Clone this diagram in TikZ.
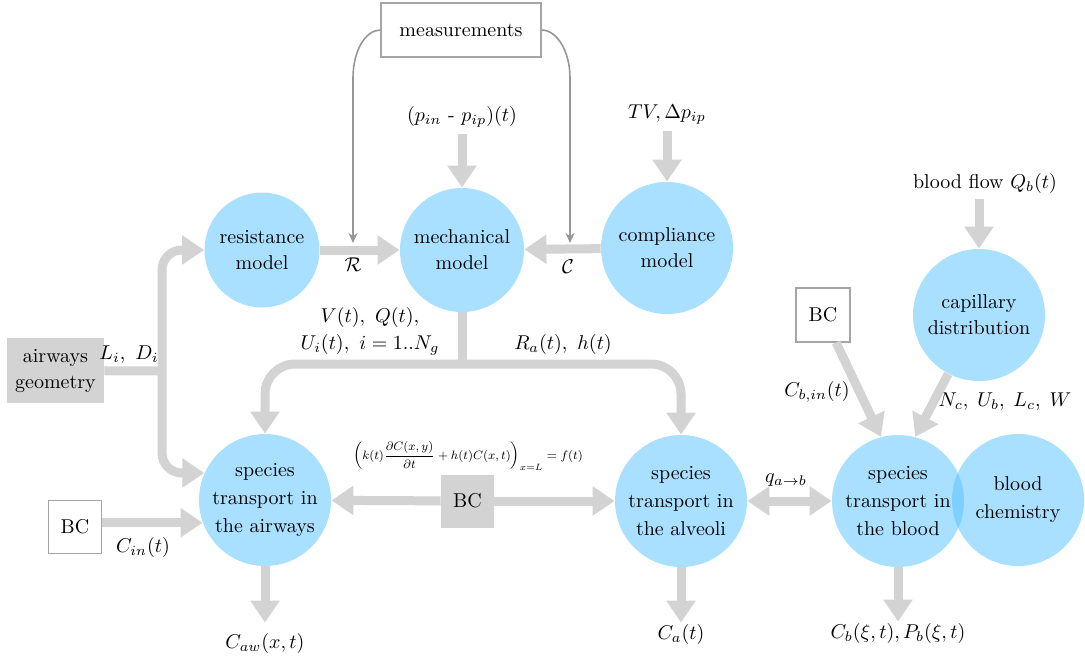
\documentclass[tikz,border=0pt]{standalone}
\usetikzlibrary{arrows.meta}
\definecolor{bubble}{RGB}{83,192,255}
\definecolor{fatgray}{RGB}{211,211,211}
\definecolor{thingray}{RGB}{150,150,150}
\definecolor{boxline}{RGB}{165,165,165}

\tikzset{
  model/.style={circle, fill=bubble, fill opacity=0.5, text opacity=1, align=center, inner sep=0pt},
  framebox/.style={draw=boxline, line width=0.6pt, fill=white, inner sep=0pt},
  graybox/.style={fill=fatgray, inner sep=0pt, align=center},
  lbl/.style={inner sep=3pt},
  fat/.style={draw=fatgray, line width=4.5pt},
  fatarrow/.style={fat, -{Triangle[length=11pt,width=14pt]}},
  fatboth/.style={fat, {Triangle[length=11pt,width=14pt]}-{Triangle[length=11pt,width=14pt]}},
  feed/.style={draw=thingray, line width=0.8pt, -{Stealth[length=5pt,width=4.5pt]}},
}

\begin{document}
\begin{tikzpicture}[x=0.5pt,y=-0.5pt]
\useasboundingbox (0,0) rectangle (1085,660);

% models
\node[model, minimum size=57.5pt] (res)   at (262,250) {resistance\\[1pt]model};
\node[model, minimum size=62pt]   (mech)  at (462,250) {mechanical\\[1pt]model};
\node[model, minimum size=66pt]   (comp)  at (667,248) {compliance\\[1pt]model};
\node[model, minimum size=66pt]   (cap)   at (979,315) {capillary\\[1pt]distribution};
\node[model, minimum size=66pt]   (aw)    at (265,500) {species\\[2pt]transport in\\[2pt]the airways};
\node[model, minimum size=66pt]   (alv)   at (681,501) {species\\[2pt]transport in\\[2pt]the alveoli};
\node[model, minimum size=66pt]   (blood) at (898,501) {species\\[2pt]transport in\\[2pt]the blood};
\node[model, minimum size=66pt]   (chem)  at (1018,500) {blood\\[2pt]chemistry};

% boxes
\node[framebox, minimum width=80pt, minimum height=27pt] (meas) at (461,30) {measurements};
\node[graybox, minimum width=48.5pt, minimum height=32.5pt] (geo) at (55.5,370.5) {airways\\[1pt]geometry};
\node[framebox, minimum size=26.5pt] (bcL) at (75,527) {BC};
\node[graybox, minimum size=26.5pt]  (bcC) at (467.5,501) {BC};
\node[framebox, minimum size=27pt]   (bcR) at (823,315) {BC};

% labels
\node[lbl] (pin) at (462,117) {$(p_{in}$ - $p_{ip})(t)$};
\node[lbl] (tv)  at (667,115) {$TV,\Delta p_{ip}$};
\node[lbl] (bf)  at (985,183) {blood flow $Q_b(t)$};
\node (rl) at (353,265) {$\mathcal{R}$};
\node (cl) at (568,267) {$\mathcal{C}$};
\node (ld) at (129,355) {$L_i,\ D_i$};
\node (vq) at (370,317) {$V(t),\ Q(t),$};
\node (ui) at (370,345) {$U_i(t),\ i=1..N_g$};
\node (ra) at (563,344) {$R_a(t),\ h(t)$};
\node[scale=0.76] (bceq) at (468,456) {\footnotesize $\displaystyle\left(k(t)\frac{\partial C(x,y)}{\partial t}+h(t)C(x,t)\right)_{x=L}=f(t)$};
\node (cin)  at (143,547) {$C_{in}(t)$};
\node (qab)  at (786,480) {$q_{a\rightarrow b}$};
\node (cbin) at (817,392) {$C_{b,in}(t)$};
\node (nc)   at (1005,402) {$N_c,\;U_b,\;L_c,\;W$};
\node[inner sep=5pt]   (awo)  at (265,643) {$C_{aw}(x,t)$};
\node[inner sep=0.5pt] (alvo) at (681,634) {$C_a(t)$};
\node[inner sep=0.5pt] (bo)   at (898,633) {$C_b(\xi,t),P_b(\xi,t)$};

% junction points
\coordinate (split) at (162,371);
\coordinate (mjoin) at (462,364);
\coordinate (lbend) at (353,78);
\coordinate (rbend) at (570,78);
\coordinate (rtip)  at (353,243);
\coordinate (ctip)  at (570,243);

% thick connectors
\draw[fatarrow] (pin) -- (mech);
\draw[fatarrow] (tv) -- (comp);
\draw[fatarrow] (cap |- bf.south) -- (cap);
\draw[fatarrow] (res) -- (mech);
\draw[fatarrow] (comp) -- (mech);

\draw[fat] (geo) -- (split);
\draw[fatarrow, rounded corners=10pt] (split) |- (res);
\draw[fatarrow, rounded corners=10pt] (split) |- (aw.156);

\draw[fat] (mech) -- (mjoin);
\draw[fatarrow, rounded corners=15pt] (mjoin) -| (aw);
\draw[fatarrow, rounded corners=15pt] (mjoin) -| (alv);

\draw[fatarrow] (bcL.east |- aw.200) -- (aw.200);
\draw[fatarrow] (bcC) -- (aw);
\draw[fatarrow] (bcC) -- (alv);
\draw[fatboth] (alv) -- (blood);
\draw[fatarrow] (bcR) -- (blood.105);
\draw[fatarrow] (cap) -- (blood.75);

\draw[fatarrow] (aw.south) -- (aw.south |- awo.north);
\draw[fatarrow] (alv.south) -- (alv.south |- alvo.north);
\draw[fatarrow] (blood.south) -- (blood.south |- bo.north);

% measurement feedback
\draw[feed] (meas.west) .. controls (365.6,30) and (353,50.5) .. (lbend) -- (rtip);
\draw[feed] (meas.east) .. controls (556.4,30) and (570,50.5) .. (rbend) -- (ctip);
\end{tikzpicture}
\end{document}
